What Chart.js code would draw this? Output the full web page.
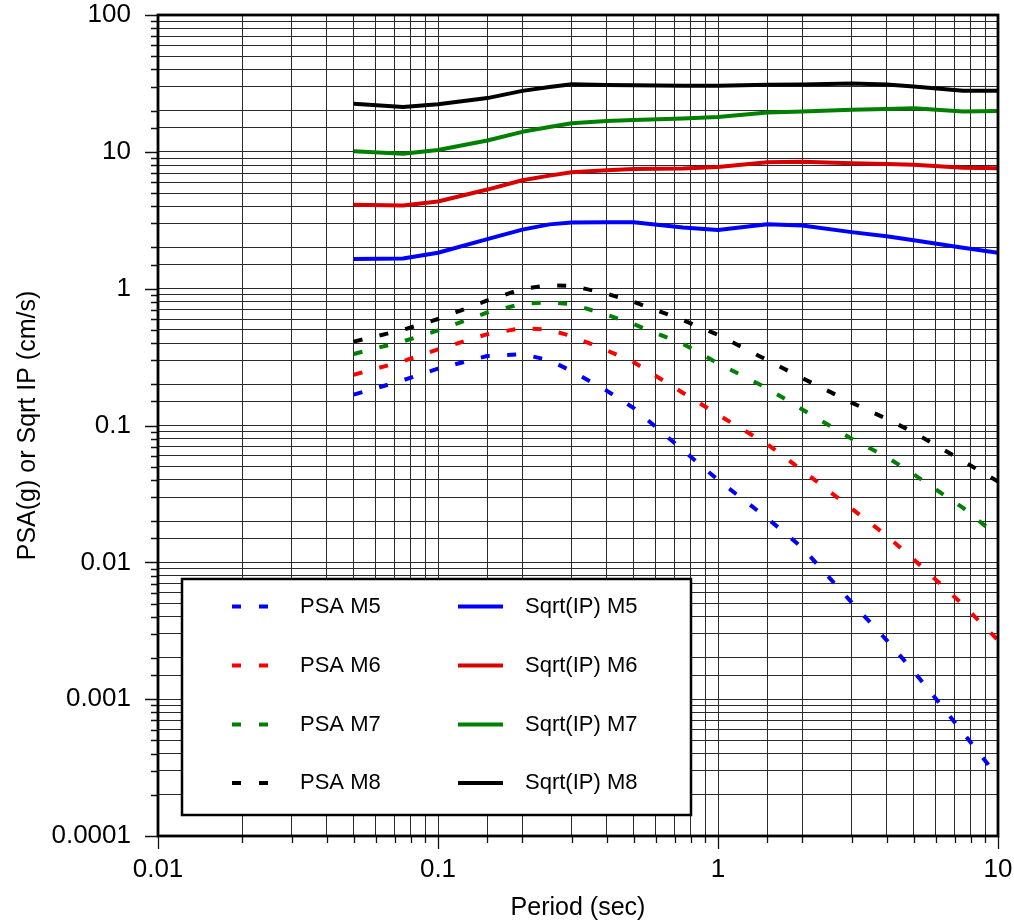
<!DOCTYPE html>
<html>
<head>
<meta charset="utf-8">
<style>
html,body{margin:0;padding:0;background:#fff;}
canvas{display:block;}
</style>
<script src="https://cdn.jsdelivr.net/npm/chart.js@4.4.1/dist/chart.umd.min.js"></script>
</head>
<body>
<canvas id="c" width="1014" height="924"></canvas>
<script>
// ---- Data ----
const periods = [0.05, 0.075, 0.1, 0.15, 0.2, 0.25, 0.3, 0.4, 0.5, 0.75, 1, 1.5, 2, 3, 4, 5, 7.5, 10];

const psaM5 = [0.168, 0.214, 0.26, 0.322, 0.332, 0.30, 0.25, 0.18, 0.134, 0.066, 0.040, 0.021, 0.0128, 0.0051, 0.0027, 0.0016, 0.00057, 0.00027];
const psaM6 = [0.235, 0.295, 0.36, 0.465, 0.515, 0.50, 0.45, 0.355, 0.29, 0.173, 0.12, 0.073, 0.047, 0.0247, 0.0157, 0.0105, 0.0049, 0.0027];
const psaM7 = [0.333, 0.412, 0.495, 0.67, 0.775, 0.795, 0.77, 0.645, 0.55, 0.395, 0.285, 0.187, 0.131, 0.080, 0.059, 0.044, 0.025, 0.0155];
const psaM8 = [0.41, 0.50, 0.60, 0.82, 0.995, 1.06, 1.05, 0.92, 0.80, 0.59, 0.46, 0.30, 0.222, 0.147, 0.112, 0.089, 0.055, 0.039];

const ipM5 = [1.65, 1.66, 1.83, 2.3, 2.7, 2.95, 3.05, 3.06, 3.06, 2.8, 2.68, 2.96, 2.89, 2.59, 2.42, 2.26, 1.99, 1.83];
const ipM6 = [4.10, 4.05, 4.34, 5.3, 6.2, 6.7, 7.1, 7.35, 7.5, 7.55, 7.75, 8.4, 8.45, 8.25, 8.15, 8.05, 7.65, 7.6];
const ipM7 = [10.1, 9.7, 10.3, 12.1, 14.0, 15.2, 16.2, 16.8, 17.1, 17.5, 18.0, 19.4, 19.7, 20.3, 20.6, 20.8, 19.7, 19.9];
const ipM8 = [22.5, 21.3, 22.3, 24.7, 27.9, 29.8, 31.2, 30.8, 30.6, 30.4, 30.4, 30.9, 31.0, 31.6, 31.0, 30.0, 27.9, 27.9];

const seriesNames = ['PSA M5', 'PSA M6', 'PSA M7', 'PSA M8', 'Sqrt(IP) M5', 'Sqrt(IP) M6', 'Sqrt(IP) M7', 'Sqrt(IP) M8'];
const xTickLabels = ['0.01', '0.1', '1', '10'];
const yTickLabels = ['0.0001', '0.001', '0.01', '0.1', '1', '10', '100'];
const xTitle = 'Period (sec)';
const yTitle = 'PSA(g) or Sqrt IP (cm/s)';

// ---- Styles ----
const FONT = "'Liberation Sans', Arial, Helvetica, sans-serif";
const DASH = [9, 17.5];
const styles = [
  {color: '#0000ff', dash: DASH},
  {color: '#ff0000', dash: DASH},
  {color: '#008000', dash: DASH},
  {color: '#000000', dash: DASH},
  {color: '#0000ff', dash: []},
  {color: '#d80000', dash: []},
  {color: '#008000', dash: []},
  {color: '#000000', dash: []}
];
const allSeries = [psaM5, psaM6, psaM7, psaM8, ipM5, ipM6, ipM7, ipM8];

const datasets = allSeries.map((vals, i) => ({
  label: seriesNames[i],
  data: periods.map((p, j) => ({x: p, y: vals[j]})),
  borderColor: styles[i].color,
  backgroundColor: styles[i].color,
  borderDash: styles[i].dash,
  borderWidth: 4,
  borderCapStyle: 'butt',
  borderJoinStyle: 'round',
  pointRadius: 0,
  tension: 0,
  fill: false
}));

function isMajor(v) {
  const l = Math.log10(v);
  return Math.abs(l - Math.round(l)) < 1e-6;
}
function labelFor(v, list) {
  if (!isMajor(v)) return '';
  const target = Math.round(Math.log10(v));
  for (const s of list) {
    if (Math.round(Math.log10(parseFloat(s))) === target) return s;
  }
  return '';
}
function zeroPad(s) {
  s.paddingLeft = 0; s.paddingRight = 0; s.paddingTop = 0; s.paddingBottom = 0;
}

const framePlugin = {
  id: 'frameTicksLegend',
  afterDraw(chart) {
    const ctx = chart.ctx;
    const a = chart.chartArea;
    const xs = chart.scales.x, ys = chart.scales.y;
    ctx.save();
    // outward ticks
    ctx.strokeStyle = '#111';
    ctx.lineWidth = 1.3;
    ctx.beginPath();
    xs.ticks.forEach(t => {
      const px = Math.round(xs.getPixelForValue(t.value)) + 0.5;
      const len = isMajor(t.value) ? 13 : 7;
      ctx.moveTo(px, a.bottom);
      ctx.lineTo(px, a.bottom + len);
    });
    ys.ticks.forEach(t => {
      const py = Math.round(ys.getPixelForValue(t.value)) + 0.5;
      const len = isMajor(t.value) ? 13 : 7;
      ctx.moveTo(a.left, py);
      ctx.lineTo(a.left - len, py);
    });
    ctx.stroke();
    // frame
    ctx.strokeStyle = '#000';
    ctx.lineWidth = 2.8;
    ctx.strokeRect(a.left, a.top, a.right - a.left, a.bottom - a.top);

    // legend box
    const L = 182, T = 579, R = 691, B = 815;
    ctx.fillStyle = '#fff';
    ctx.fillRect(L, T, R - L, B - T);
    ctx.lineWidth = 2.5;
    ctx.strokeStyle = '#000';
    ctx.strokeRect(L, T, R - L, B - T);
    const rows = [606.5, 665.5, 724.5, 783];
    ctx.font = '22px ' + FONT;
    ctx.textBaseline = 'middle';
    ctx.textAlign = 'left';
    for (let i = 0; i < 4; i++) {
      const y = rows[i];
      ctx.strokeStyle = styles[i].color;
      ctx.lineWidth = 4;
      ctx.lineCap = 'butt';
      ctx.setLineDash([]);
      ctx.beginPath();
      ctx.moveTo(232, y); ctx.lineTo(241, y);
      ctx.moveTo(259, y); ctx.lineTo(268, y);
      ctx.stroke();
      ctx.fillStyle = '#000';
      ctx.fillText(seriesNames[i], 300, y);
      ctx.strokeStyle = styles[i + 4].color;
      ctx.lineWidth = 4;
      ctx.beginPath();
      ctx.moveTo(458, y); ctx.lineTo(503, y);
      ctx.stroke();
      ctx.fillStyle = '#000';
      ctx.fillText(seriesNames[i + 4], 525, y);
    }
    ctx.restore();
  }
};

new Chart(document.getElementById('c'), {
  type: 'line',
  data: {datasets},
  options: {
    responsive: false,
    animation: false,
    devicePixelRatio: 1,
    layout: {padding: {top: 15, right: 16, left: 0, bottom: 0}},
    plugins: {legend: {display: false}, tooltip: {enabled: false}, title: {display: false}},
    scales: {
      x: {
        type: 'logarithmic',
        position: 'bottom',
        min: 0.01, max: 10,
        afterFit: (s) => { s.height = 88; zeroPad(s); },
        grid: {color: '#2a2a2a', lineWidth: 1, drawTicks: false},
        border: {display: false},
        ticks: {
          autoSkip: false, maxRotation: 0, minRotation: 0,
          padding: 18,
          color: '#000',
          font: {family: FONT, size: 26, lineHeight: 1.2},
          callback: (v) => labelFor(v, xTickLabels)
        },
        title: {display: true, text: xTitle, color: '#000',
          font: {family: FONT, size: 25, lineHeight: 1.2}, padding: {top: 0, bottom: 1}}
      },
      y: {
        type: 'logarithmic',
        position: 'left',
        min: 0.0001, max: 100,
        afterFit: (s) => { s.width = 158; zeroPad(s); },
        grid: {color: '#2a2a2a', lineWidth: 1, drawTicks: false},
        border: {display: false},
        ticks: {
          autoSkip: false,
          padding: 27,
          color: '#000',
          font: {family: FONT, size: 26, lineHeight: 1.0},
          callback: (v) => labelFor(v, yTickLabels)
        },
        title: {display: true, text: yTitle, color: '#000',
          font: {family: FONT, size: 25, lineHeight: 1.2}, padding: {top: 13, bottom: 0}}
      }
    }
  },
  plugins: [framePlugin]
});
</script>
</body>
</html>
